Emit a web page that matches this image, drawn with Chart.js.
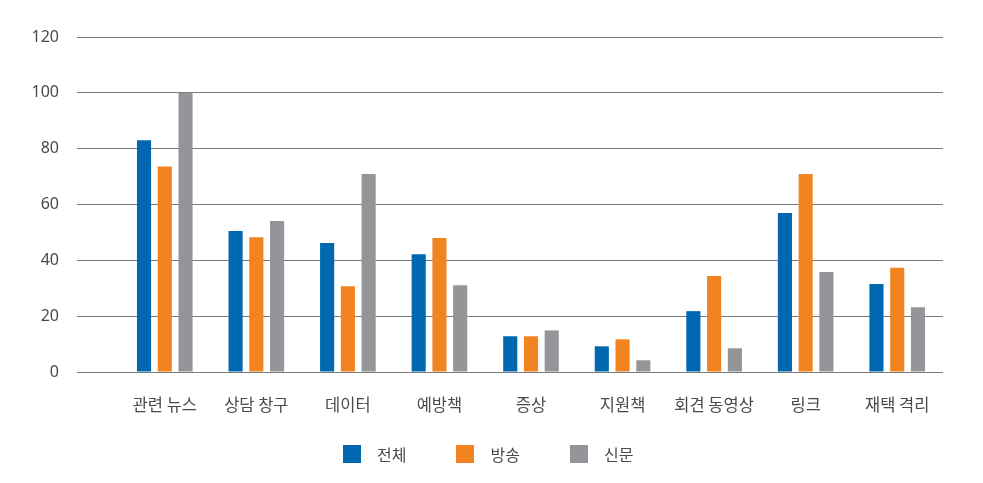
<!DOCTYPE html>
<html lang="ko">
<head>
  <meta charset="UTF-8" />
  <title>항목별 비율</title>
  <style>
    body {
      margin: 0;
      background-color: #ffffff;
      font-family: "Noto Sans", "Noto Sans CJK KR", sans-serif;
    }

    .wrap {
      position: relative;
      width: 983px;
      height: 483px;
    }

    canvas {
      display: block;
    }

    .legend {
      position: absolute;
      left: 343px;
      top: 442px;
      display: flex;
      align-items: center;
    }

    .legend-item {
      display: flex;
      align-items: center;
      margin-right: 50px;
      font-family: "Noto Sans CJK KR", sans-serif;
      font-size: 16px;
      color: #4a4a4a;
    }

    .legend-box {
      width: 18px;
      height: 18px;
      margin-right: 16px;
    }
  </style>
</head>
<body>
  <div class="wrap">
    <canvas id="barChart" width="983" height="483"></canvas>
    <div class="legend" id="legend"></div>
  </div>

  <script src="https://cdn.jsdelivr.net/npm/chart.js"></script>
  <script>
    const categories = ["관련 뉴스", "상담 창구", "데이터", "예방책", "증상", "지원책", "회견 동영상", "링크", "재택 격리"];
    const seriesNames = ["전체", "방송", "신문"];
    const totalValues = [83, 50.5, 46.2, 42.2, 12.8, 9.2, 21.8, 57, 31.5];
    const broadcastValues = [73.6, 48.3, 30.7, 48, 12.8, 11.7, 34.4, 70.9, 37.3];
    const newspaperValues = [100, 54.1, 70.9, 31.1, 14.9, 4.2, 8.5, 35.8, 23.2];
    const yTicks = [0, 20, 40, 60, 80, 100, 120];

    const colors = ["#0067b1", "#f18421", "#939598"];
    const textColor = "#4a4a4a";
    const gridColor = "#7a7a7a";

    const ctx = document.getElementById("barChart").getContext("2d");

    const chart = new Chart(ctx, {
      type: "bar",
      data: {
        labels: categories,
        datasets: [totalValues, broadcastValues, newspaperValues].map((values, i) => ({
          label: seriesNames[i],
          data: values,
          backgroundColor: colors[i],
          borderWidth: 0,
          categoryPercentage: 0.68,
          barPercentage: 0.68
        }))
      },
      options: {
        responsive: false,
        animation: false,
        layout: {
          padding: { top: 37, right: 40, bottom: 0, left: 0 }
        },
        plugins: {
          legend: { display: false },
          tooltip: { enabled: false }
        },
        scales: {
          x: {
            grid: { display: false },
            border: { display: false },
            ticks: {
              color: textColor,
              font: { family: "'Noto Sans CJK KR', sans-serif", size: 16.5 },
              padding: 15,
              maxRotation: 0
            },
            afterFit: (scale) => { scale.height = 111; }
          },
          y: {
            min: yTicks[0],
            max: yTicks[yTicks.length - 1],
            afterBuildTicks: (scale) => {
              scale.ticks = yTicks.map(v => ({ value: v }));
            },
            grid: {
              color: gridColor,
              lineWidth: 1,
              drawTicks: true,
              tickLength: 42
            },
            border: { display: false },
            ticks: {
              color: textColor,
              font: { family: "'Noto Sans', sans-serif", size: 16 },
              padding: 18
            },
            afterFit: (scale) => { scale.width = 119; }
          }
        }
      }
    });

    const legend = document.getElementById("legend");
    chart.data.datasets.forEach(ds => {
      const item = document.createElement("div");
      item.className = "legend-item";
      const box = document.createElement("span");
      box.className = "legend-box";
      box.style.backgroundColor = ds.backgroundColor;
      const label = document.createElement("span");
      label.textContent = ds.label;
      item.appendChild(box);
      item.appendChild(label);
      legend.appendChild(item);
    });
  </script>
</body>
</html>
